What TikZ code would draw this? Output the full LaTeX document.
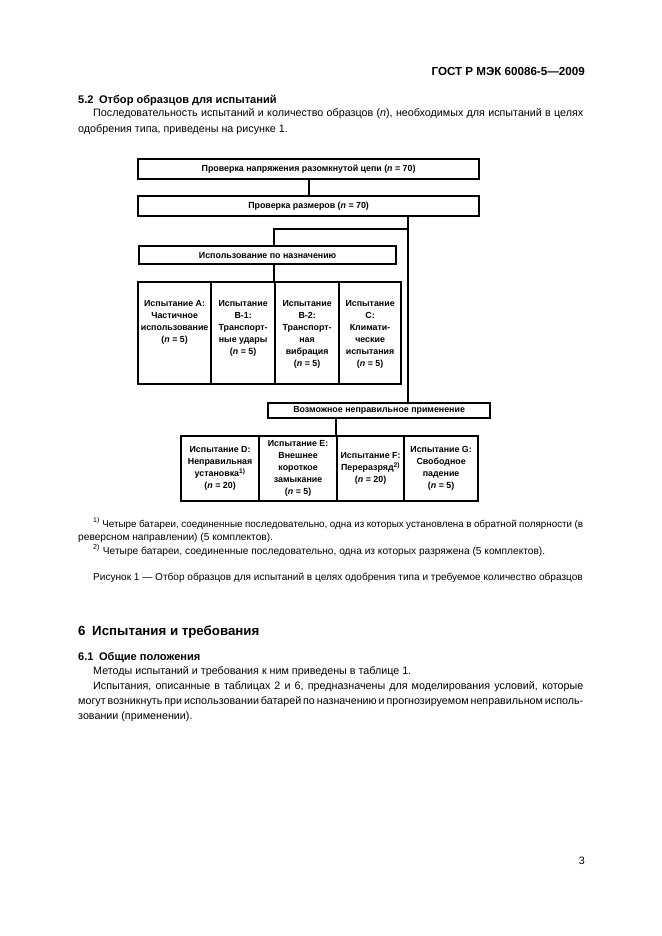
\documentclass[tikz,border=0pt]{standalone}
\usepackage{fontspec}
\setmainfont{Liberation Sans}
\usetikzlibrary{positioning}
\newlength\px
\setlength\px{0.3177mm}
\newcommand\tightsp{\spaceskip=0.278em plus 0.4em minus 0.1em\relax}

\begin{document}
\begin{tikzpicture}[x=1\px,y=-1\px,
  blk/.style={draw,line width=2pt,rectangle,inner sep=0pt,anchor=north west,font=\fontsize{8}{10.8}\selectfont\bfseries},
  cell/.style n args={2}{blk,minimum width=#1\px,minimum height=#2\px,align=center},
  lbl/.style={anchor=north,inner sep=0pt,yshift=-19\px,align=center,font=\fontsize{8}{10.8}\selectfont\bfseries},
  link/.style={line width=2pt},
  txt/.style={anchor=base west,inner sep=0pt,font=\fontsize{9.7}{13}\selectfont\tightsp},
  note/.style={txt,font=\fontsize{9.2}{11}\selectfont\tightsp}]
\fill[white] (0,0) rectangle (661,936);
\useasboundingbox (0,0) rectangle (661,936);

% page text
\node[txt,anchor=base east,font=\fontsize{10.5}{12}\selectfont\bfseries] (hdr) at (585,76) {ГОСТ Р МЭК 60086-5—2009};
\node[txt,font=\fontsize{10}{12}\selectfont\bfseries] (s52) at (78,104) {5.2\enspace Отбор образцов для испытаний};
\node[txt] (p1) at (93,117) {\makebox[490\px][s]{Последовательность испытаний и количество образцов (\textit{n}), необходимых для испытаний в целях}};
\node[txt] (p2) at (78,132) {одобрения типа, приведены на рисунке 1.};

% the blocks
\node[cell={341}{20}] (ocv) at (137,158) {Проверка напряжения разомкнутой цепи (\textit{n} = 70)};
\node[cell={341}{20}] (dim) at (137,195) {Проверка размеров (\textit{n} = 70)};
\node[cell={257}{18}] (use) at (138,245) {Использование по назначению};
\node[cell={222}{15}] (mis) at (267,402) {Возможное неправильное применение};

\foreach \n/\x/\w/\t in %
{tA/137/73/{Испытание А:\\Частичное\\использование\\(\textit{n} = 5)},
 tB1/210/64/{Испытание\\B-1:\\Транспорт-\\ные удары\\(\textit{n} = 5)},
 tB2/274/64/{Испытание\\B-2:\\Транспорт-\\ная\\вибрация\\(\textit{n} = 5)},
 tC/338/62/{Испытание\\С:\\Климати-\\ческие\\испытания\\(\textit{n} = 5)}} {
   \node[cell={\w}{102}] (\n) at (\x,281) {};
   \node[lbl] (\n t) at (\n.north) {\t};
}
\foreach \n/\x/\w/\t in %
{tD/180/78/{Испытание D:\\Неправильная\\установка\textsuperscript{1)}\\(\textit{n} = 20)},
 tE/258/78/{Испытание E:\\Внешнее\\короткое\\замыкание\\(\textit{n} = 5)},
 tF/336/67/{Испытание F:\\Переразряд\textsuperscript{2)}\\(\textit{n} = 20)},
 tG/403/74/{Испытание G:\\Свободное\\падение\\(\textit{n} = 5)}} {
   \node[cell={\w}{65}] (\n) at (\x,435) {\t};
}

\coordinate (trunk) at (408,229);
\coordinate (fork) at (274,229);
\draw[link] (ocv.south) -- (dim.north);
\draw[link] (dim.south -| trunk) -- (mis.north -| trunk);
\draw[link] (trunk) -- (fork) -- (fork |- use.north);
\draw[link] (use.south -| tB2.north west) -- (tB2.north west);
\draw[link] (mis.south -| tF.north west) -- (tF.north west);

% notes and caption
\node[note,font=\fontsize{8.9}{11}\selectfont\tightsp] (n1) at (93,527) {\makebox[490\px][s]{\textsuperscript{1)} Четыре батареи, соединенные последовательно, одна из которых установлена в обратной полярности (в}};
\node[note] (n1b) at (78,540) {реверсном направлении) (5 комплектов).};
\node[note] (n2) at (93,554) {\textsuperscript{2)} Четыре батареи, соединенные последовательно, одна из которых разряжена (5 комплектов).};
\node[note,font=\fontsize{9.1}{11}\selectfont] (cap) at (93,580) {Рисунок 1 — Отбор образцов для испытаний в целях одобрения типа и требуемое количество образцов};

% section 6
\node[txt,font=\fontsize{12}{14}\selectfont\bfseries] (s6) at (78,635) {6\enspace Испытания и требования};
\node[txt,font=\fontsize{10}{12}\selectfont\bfseries] (s61) at (78,660) {6.1\enspace Общие положения};
\node[txt] (q1) at (93,674) {Методы испытаний и требования к ним приведены в таблице 1.};
\node[txt] (q2) at (93,689) {\makebox[490\px][s]{Испытания, описанные в таблицах 2 и 6, предназначены для моделирования условий, которые}};
\node[txt] (q3) at (78,704) {\makebox[505\px][s]{могут возникнуть при использовании батарей по назначению и прогнозируемом неправильном исполь-}};
\node[txt] (q4) at (78,719) {зовании (применении).};
\node[txt,anchor=base east] (pg) at (585,864) {3};
\end{tikzpicture}
\end{document}
